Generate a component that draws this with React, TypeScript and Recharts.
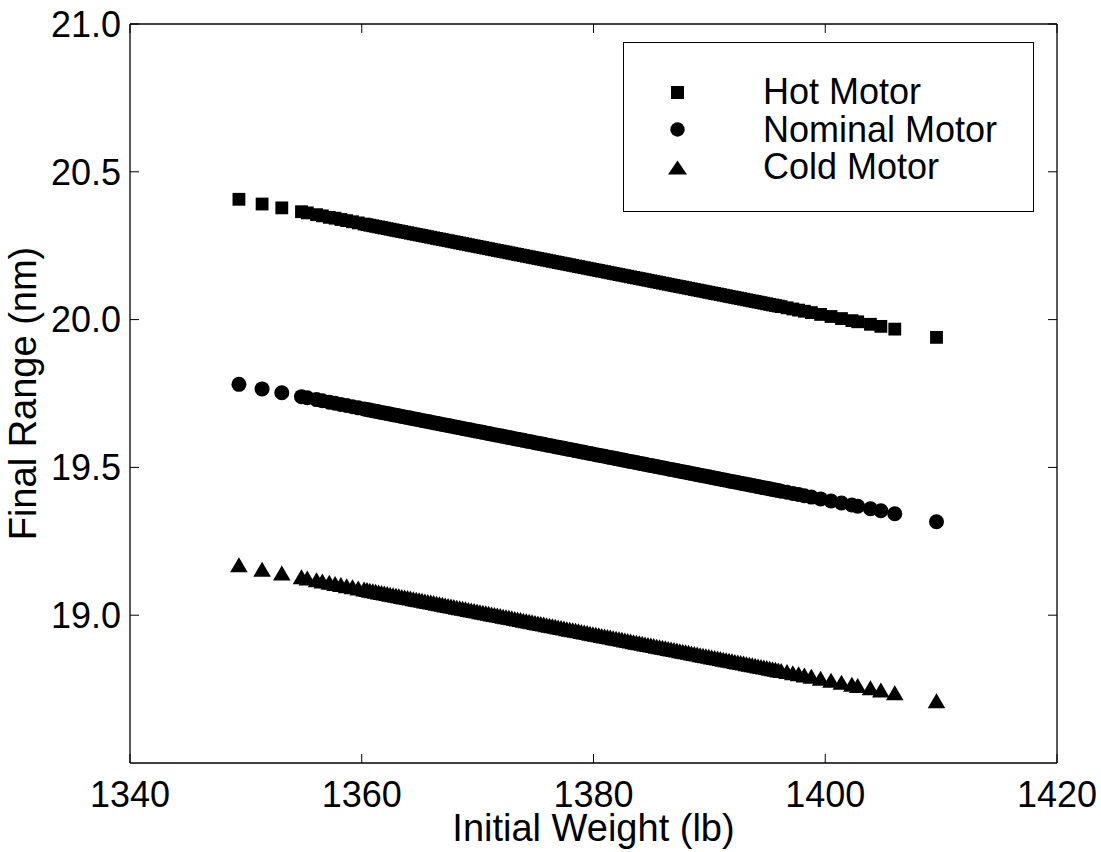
import React from 'react';
import { ScatterChart, Scatter, XAxis, YAxis, Legend } from 'recharts';

// Initial weight (lb) of each sample
const weights = [
  1349.4, 1351.4, 1353.1, 1354.8, 1355.3, 1356.1, 1356.6, 1357.2, 1357.7,
  1358.2, 1358.7, 1359.2, 1359.7,
  1360.2, 1360.45, 1360.7, 1360.95, 1361.2, 1361.45, 1361.7, 1361.95, 1362.2, 1362.45, 1362.7, 1362.95,
  1363.2, 1363.45, 1363.7, 1363.95, 1364.2, 1364.45, 1364.7, 1364.95, 1365.2, 1365.45, 1365.7, 1365.95,
  1366.2, 1366.45, 1366.7, 1366.95, 1367.2, 1367.45, 1367.7, 1367.95, 1368.2, 1368.45, 1368.7, 1368.95,
  1369.2, 1369.45, 1369.7, 1369.95, 1370.2, 1370.45, 1370.7, 1370.95, 1371.2, 1371.45, 1371.7, 1371.95,
  1372.2, 1372.45, 1372.7, 1372.95, 1373.2, 1373.45, 1373.7, 1373.95, 1374.2, 1374.45, 1374.7, 1374.95,
  1375.2, 1375.45, 1375.7, 1375.95, 1376.2, 1376.45, 1376.7, 1376.95, 1377.2, 1377.45, 1377.7, 1377.95,
  1378.2, 1378.45, 1378.7, 1378.95, 1379.2, 1379.45, 1379.7, 1379.95, 1380.2, 1380.45, 1380.7, 1380.95,
  1381.2, 1381.45, 1381.7, 1381.95, 1382.2, 1382.45, 1382.7, 1382.95, 1383.2, 1383.45, 1383.7, 1383.95,
  1384.2, 1384.45, 1384.7, 1384.95, 1385.2, 1385.45, 1385.7, 1385.95, 1386.2, 1386.45, 1386.7, 1386.95,
  1387.2, 1387.45, 1387.7, 1387.95, 1388.2, 1388.45, 1388.7, 1388.95, 1389.2, 1389.45, 1389.7, 1389.95,
  1390.2, 1390.45, 1390.7, 1390.95, 1391.2, 1391.45, 1391.7, 1391.95, 1392.2, 1392.45, 1392.7, 1392.95,
  1393.2, 1393.45, 1393.7, 1393.95, 1394.2, 1394.45, 1394.7, 1394.95, 1395.2, 1395.45, 1395.7, 1395.95,
  1396.2,
  1396.7, 1397.2, 1397.7, 1398.2,
  1398.8, 1399.6, 1400.5, 1401.4, 1402.3, 1402.8, 1403.9, 1404.8, 1406.0, 1409.6,
];

const hotRange = [
  20.407, 20.391, 20.378, 20.365, 20.361, 20.355, 20.351, 20.346, 20.343,
  20.3387, 20.3348, 20.3310, 20.3271,
  20.3232, 20.3213, 20.3193, 20.3174, 20.3154, 20.3135, 20.3116, 20.3097, 20.3077, 20.3058, 20.3038, 20.3019,
  20.2999, 20.2980, 20.2960, 20.2941, 20.2921, 20.2902, 20.2883, 20.2864, 20.2844, 20.2825, 20.2805, 20.2786,
  20.2766, 20.2747, 20.2727, 20.2708, 20.2689, 20.2670, 20.2650, 20.2631, 20.2611, 20.2592, 20.2572, 20.2553,
  20.2533, 20.2514, 20.2495, 20.2476, 20.2456, 20.2437, 20.2417, 20.2398, 20.2378, 20.2359, 20.2339, 20.2320,
  20.2301, 20.2282, 20.2262, 20.2243, 20.2223, 20.2204, 20.2184, 20.2165, 20.2145, 20.2126, 20.2107, 20.2088,
  20.2068, 20.2049, 20.2029, 20.2010, 20.1990, 20.1971, 20.1951, 20.1932, 20.1912, 20.1893, 20.1874, 20.1855,
  20.1835, 20.1816, 20.1796, 20.1777, 20.1757, 20.1738, 20.1718, 20.1699, 20.1680, 20.1661, 20.1641, 20.1622,
  20.1602, 20.1583, 20.1563, 20.1544, 20.1524, 20.1505, 20.1486, 20.1467, 20.1447, 20.1428, 20.1408, 20.1389,
  20.1369, 20.1350, 20.1330, 20.1311, 20.1292, 20.1273, 20.1253, 20.1234, 20.1214, 20.1195, 20.1175, 20.1156,
  20.1136, 20.1117, 20.1098, 20.1079, 20.1059, 20.1040, 20.1020, 20.1001, 20.0981, 20.0962, 20.0942, 20.0923,
  20.0903, 20.0884, 20.0865, 20.0846, 20.0826, 20.0807, 20.0787, 20.0768, 20.0748, 20.0729, 20.0709, 20.0690,
  20.0671, 20.0652, 20.0632, 20.0613, 20.0593, 20.0574, 20.0554, 20.0535, 20.0515, 20.0496, 20.0477, 20.0458,
  20.0438,
  20.0399, 20.0360, 20.0321, 20.0283,
  20.0237, 20.0175, 20.0105, 20.0035, 19.9965, 19.9926, 19.9841, 19.9771, 19.9678, 19.9399,
];

const nominalRange = [
  19.781, 19.7656, 19.7524, 19.7393, 19.7355, 19.7293, 19.7254, 19.7208, 19.7169,
  19.7131, 19.7092, 19.7053, 19.7015,
  19.6976, 19.6957, 19.6938, 19.6919, 19.6899, 19.6880, 19.6860, 19.6841, 19.6822, 19.6803, 19.6783, 19.6764,
  19.6745, 19.6726, 19.6706, 19.6687, 19.6667, 19.6648, 19.6629, 19.6610, 19.6590, 19.6571, 19.6552, 19.6533,
  19.6513, 19.6494, 19.6474, 19.6455, 19.6436, 19.6417, 19.6397, 19.6378, 19.6359, 19.6340, 19.6320, 19.6301,
  19.6281, 19.6262, 19.6243, 19.6224, 19.6204, 19.6185, 19.6166, 19.6147, 19.6127, 19.6108, 19.6088, 19.6069,
  19.6050, 19.6031, 19.6011, 19.5992, 19.5973, 19.5954, 19.5934, 19.5915, 19.5895, 19.5876, 19.5857, 19.5838,
  19.5818, 19.5799, 19.5780, 19.5761, 19.5741, 19.5722, 19.5702, 19.5683, 19.5664, 19.5645, 19.5625, 19.5606,
  19.5587, 19.5568, 19.5548, 19.5529, 19.5509, 19.5490, 19.5471, 19.5452, 19.5432, 19.5413, 19.5394, 19.5375,
  19.5355, 19.5336, 19.5316, 19.5297, 19.5278, 19.5259, 19.5239, 19.5220, 19.5201, 19.5182, 19.5162, 19.5143,
  19.5123, 19.5104, 19.5085, 19.5066, 19.5046, 19.5027, 19.5008, 19.4989, 19.4969, 19.4950, 19.4930, 19.4911,
  19.4892, 19.4873, 19.4853, 19.4834, 19.4815, 19.4796, 19.4776, 19.4757, 19.4737, 19.4718, 19.4699, 19.4680,
  19.4660, 19.4641, 19.4622, 19.4603, 19.4583, 19.4564, 19.4544, 19.4525, 19.4506, 19.4487, 19.4467, 19.4448,
  19.4429, 19.4410, 19.4390, 19.4371, 19.4351, 19.4332, 19.4313, 19.4294, 19.4274, 19.4255, 19.4236, 19.4217,
  19.4197,
  19.4158, 19.4120, 19.4081, 19.4043,
  19.3996, 19.3935, 19.3865, 19.3796, 19.3726, 19.3688, 19.3603, 19.3533, 19.3431, 19.3163,
];

const coldRange = [
  19.166, 19.1507, 19.1377, 19.1247, 19.1209, 19.1147, 19.1109, 19.1063, 19.1025,
  19.0987, 19.0949, 19.0910, 19.0872,
  19.0834, 19.0815, 19.0796, 19.0777, 19.0757, 19.0738, 19.0719, 19.0700, 19.0681, 19.0662, 19.0643, 19.0624,
  19.0604, 19.0585, 19.0566, 19.0547, 19.0528, 19.0509, 19.0490, 19.0471, 19.0451, 19.0432, 19.0413, 19.0394,
  19.0375, 19.0356, 19.0337, 19.0318, 19.0298, 19.0279, 19.0260, 19.0241, 19.0222, 19.0203, 19.0184, 19.0165,
  19.0145, 19.0126, 19.0107, 19.0088, 19.0069, 19.0050, 19.0031, 19.0012, 18.9992, 18.9973, 18.9954, 18.9935,
  18.9916, 18.9897, 18.9878, 18.9859, 18.9839, 18.9820, 18.9801, 18.9782, 18.9763, 18.9744, 18.9725, 18.9706,
  18.9686, 18.9667, 18.9648, 18.9629, 18.9610, 18.9591, 18.9572, 18.9553, 18.9533, 18.9514, 18.9495, 18.9476,
  18.9457, 18.9438, 18.9419, 18.9400, 18.9380, 18.9361, 18.9342, 18.9323, 18.9304, 18.9285, 18.9266, 18.9247,
  18.9227, 18.9208, 18.9189, 18.9170, 18.9151, 18.9132, 18.9113, 18.9094, 18.9074, 18.9055, 18.9036, 18.9017,
  18.8998, 18.8979, 18.8960, 18.8941, 18.8921, 18.8902, 18.8883, 18.8864, 18.8845, 18.8826, 18.8807, 18.8788,
  18.8768, 18.8749, 18.8730, 18.8711, 18.8692, 18.8673, 18.8654, 18.8635, 18.8615, 18.8596, 18.8577, 18.8558,
  18.8539, 18.8520, 18.8501, 18.8482, 18.8462, 18.8443, 18.8424, 18.8405, 18.8386, 18.8367, 18.8348, 18.8329,
  18.8309, 18.8290, 18.8271, 18.8252, 18.8233, 18.8214, 18.8195, 18.8176, 18.8156, 18.8137, 18.8118, 18.8099,
  18.8080,
  18.8042, 18.8003, 18.7965, 18.7927,
  18.7881, 18.7820, 18.7751, 18.7682, 18.7613, 18.7575, 18.7491, 18.7422, 18.7330, 18.7055,
];

const seriesNames = ['Hot Motor', 'Nominal Motor', 'Cold Motor'];
const xTicks = [1340, 1360, 1380, 1400, 1420];
const yTicks = [19.0, 19.5, 20.0, 20.5, 21.0];
const xDomain = [1340, 1420];
const yDomain = [18.5, 21.0];
const xLabel = 'Initial Weight (lb)';
const yLabel = 'Final Range (nm)';

const FONT = '"Liberation Sans", Arial, Helvetica, sans-serif';

const toRows = (vals: number[]) => weights.map((w, i) => ({ w, r: vals[i] }));
const hotData = toRows(hotRange);
const nominalData = toRows(nominalRange);
const coldData = toRows(coldRange);

const SquareShape = (p: any) => (
  <rect x={p.cx - 6.4} y={p.cy - 6.4} width={12.8} height={12.8} fill="#000" />
);
const CircleShape = (p: any) => <circle cx={p.cx} cy={p.cy} r={7.5} fill="#000" />;
const TriangleShape = (p: any) => (
  <polygon
    points={`${p.cx},${p.cy - 9} ${p.cx + 8.8},${p.cy + 6} ${p.cx - 8.8},${p.cy + 6}`}
    fill="#000"
  />
);

const legendIcon = (name: string) => {
  if (name === seriesNames[0]) return <rect x={3} y={3} width={13} height={13} fill="#000" />;
  if (name === seriesNames[1]) return <circle cx={9.5} cy={9.5} r={7.2} fill="#000" />;
  return <polygon points="9.5,2.5 19,16.5 0,16.5" fill="#000" />;
};

const LegendBox = (props: any) => {
  const payload = props.payload || [];
  const present = new Set(payload.map((e: any) => e.value));
  const names = seriesNames.filter((n) => present.size === 0 || present.has(n));
  return (
    <div
      style={{
        width: 411,
        height: 170,
        border: '1.5px solid #000',
        boxSizing: 'border-box',
        background: '#fff',
        position: 'relative',
        fontFamily: FONT,
        fontSize: 36,
        color: '#000',
      }}
    >
      {names.map((name: string, i: number) => (
        <div
          key={name}
          style={{
            position: 'absolute',
            left: 0,
            top: 30 + i * 37.5,
            height: 38,
            width: '100%',
          }}
        >
          <svg
            width={19}
            height={19}
            style={{ position: 'absolute', left: 44, top: 9.5 }}
          >
            {legendIcon(name)}
          </svg>
          <span
            style={{
              position: 'absolute',
              left: 139,
              top: 0,
              lineHeight: '38px',
              whiteSpace: 'nowrap',
            }}
          >
            {name}
          </span>
        </div>
      ))}
    </div>
  );
};

const XLabel = (props: any) => {
  const vb = props.viewBox || { x: 130, y: 763, width: 927, height: 89 };
  const cx = vb.x + vb.width / 2;
  const cy = vb.y + 78;
  return (
    <text x={cx} y={cy} textAnchor="middle" fontSize={38} fontFamily={FONT} fill="#000">
      {xLabel}
    </text>
  );
};

const YLabel = (props: any) => {
  const vb = props.viewBox || { x: 0, y: 24, width: 130, height: 739 };
  const cx = vb.x + 36;
  const cy = vb.y + vb.height / 2;
  return (
    <text
      x={cx}
      y={cy}
      transform={`rotate(-90 ${cx} ${cy})`}
      textAnchor="middle"
      fontSize={38}
      fontFamily={FONT}
      fill="#000"
    >
      {yLabel}
    </text>
  );
};

const tickStyle = { fill: '#000', fontSize: 36, fontFamily: FONT };
const noTick = () => <g />;

export default function App() {
  return (
    <div style={{ position: 'absolute', left: 0, top: 0, background: '#fff' }}>
      <ScatterChart
        width={1101}
        height={852}
        margin={{ top: 0, right: 0, bottom: 0, left: 0 }}
        style={{ background: '#fff' }}
      >
        <XAxis
          xAxisId="b"
          type="number"
          dataKey="w"
          orientation="bottom"
          domain={xDomain}
          ticks={xTicks}
          allowDataOverflow
          height={89}
          tickSize={-9}
          tickMargin={27}
          tick={tickStyle}
          axisLine={{ stroke: '#000', strokeWidth: 1.3 }}
          tickLine={{ stroke: '#000', strokeWidth: 1 }}
          interval={0}
          label={<XLabel />}
        />
        <XAxis
          xAxisId="t"
          type="number"
          dataKey="w"
          orientation="top"
          domain={xDomain}
          ticks={xTicks}
          allowDataOverflow
          height={24}
          tickSize={-9}
          tick={noTick}
          axisLine={{ stroke: '#000', strokeWidth: 1.3 }}
          tickLine={{ stroke: '#000', strokeWidth: 1 }}
          interval={0}
        />
        <YAxis
          yAxisId="l"
          type="number"
          dataKey="r"
          orientation="left"
          domain={yDomain}
          ticks={yTicks}
          allowDataOverflow
          width={130}
          tickSize={-9}
          tickMargin={18}
          tick={tickStyle}
          tickFormatter={(v: number) => v.toFixed(1)}
          axisLine={{ stroke: '#000', strokeWidth: 1.3 }}
          tickLine={{ stroke: '#000', strokeWidth: 1 }}
          interval={0}
          label={<YLabel />}
        />
        <YAxis
          yAxisId="r"
          type="number"
          dataKey="r"
          orientation="right"
          domain={yDomain}
          ticks={yTicks}
          allowDataOverflow
          width={44}
          tickSize={-9}
          tick={noTick}
          axisLine={{ stroke: '#000', strokeWidth: 1.3 }}
          tickLine={{ stroke: '#000', strokeWidth: 1 }}
          interval={0}
        />
        <Legend
          layout="vertical"
          align="center"
          verticalAlign="middle"
          content={<LegendBox />}
          wrapperStyle={{ position: 'absolute', left: 623, top: 42, width: 411, height: 170 }}
        />
        <Scatter
          name={seriesNames[0]}
          data={hotData}
          xAxisId="b"
          yAxisId="l"
          fill="#000"
          shape={SquareShape}
          isAnimationActive={false}
        />
        <Scatter
          name={seriesNames[1]}
          data={nominalData}
          xAxisId="b"
          yAxisId="l"
          fill="#000"
          shape={CircleShape}
          isAnimationActive={false}
        />
        <Scatter
          name={seriesNames[2]}
          data={coldData}
          xAxisId="b"
          yAxisId="l"
          fill="#000"
          shape={TriangleShape}
          isAnimationActive={false}
        />
      </ScatterChart>
    </div>
  );
}
